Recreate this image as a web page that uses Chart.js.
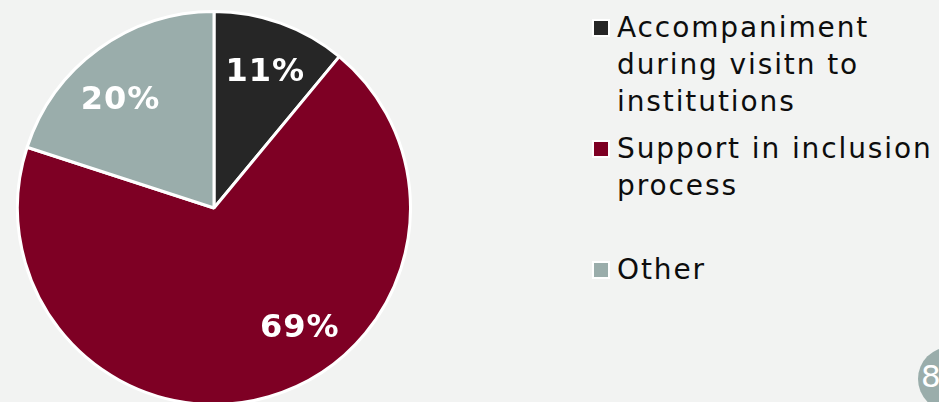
<!DOCTYPE html>
<html>
<head>
    <title>Pie chart</title>
    <script src="https://cdn.jsdelivr.net/npm/chart.js"></script>
    <style>
        html, body { margin: 0; padding: 0; width: 939px; height: 402px; overflow: hidden; background: #f2f3f2; }
        #chart-container { position: absolute; left: 16px; top: 10px; width: 396px; height: 396px; }
        #legend { position: absolute; left: 592px; top: 9px; font-family: "DejaVu Sans", Verdana, sans-serif; font-size: 28px; color: #0d0d0d; letter-spacing: 1.9px; }
        .item { position: relative; padding-left: 25px; line-height: 37px; margin-bottom: 10px; white-space: nowrap; }
        .box { position: absolute; left: 0px; top: 10px; width: 14px; height: 14px; border: 2px solid #fff; }
        #page { position: absolute; left: 918px; top: 347px; width: 64px; height: 64px; border-radius: 50%; background: #9aadab; color: #fff; font-family: "DejaVu Sans", sans-serif; font-size: 31px; line-height: 58px; text-indent: 3px; }
    </style>
</head>
<body>
    <div id="chart-container">
        <canvas id="pie-chart"></canvas>
    </div>
    <div id="legend"></div>
    <div id="page">8</div>

    <script>
        // categories (legend lines), values in percent, slice colours
        var categorias = [
            ['Accompaniment', 'during visitn to', 'institutions'],
            ['Support in inclusion', 'process', ''],
            ['Other']
        ];
        var valores = [11, 69, 20];
        var colores = ['#262626', '#7e0024', '#9aadab'];

        // desplazamiento de las etiquetas (grados) para imitar el original
        var giroEtiqueta = [0, -19, -5];

        var etiquetas = {
            id: 'etiquetas',
            afterDatasetsDraw: function(chart) {
                var c = chart.ctx;
                var meta = chart.getDatasetMeta(0);
                c.save();
                c.fillStyle = '#fff';
                c.font = 'bold 32px "DejaVu Sans", sans-serif';
                c.letterSpacing = '1px';
                c.textAlign = 'center';
                c.textBaseline = 'middle';
                meta.data.forEach(function(arc, i) {
                    var p = arc.getProps(['x', 'y', 'startAngle', 'endAngle', 'outerRadius']);
                    var ang = (p.startAngle + p.endAngle) / 2 + giroEtiqueta[i] * Math.PI / 180;
                    var r = p.outerRadius * 0.74;
                    c.fillText(valores[i] + '%', p.x + Math.cos(ang) * r + 2, p.y + Math.sin(ang) * r + 2);
                });
                c.restore();
            }
        };

        var ctx = document.getElementById('pie-chart').getContext('2d');
        var chart = new Chart(ctx, {
            type: 'pie',
            data: {
                labels: categorias,
                datasets: [{
                    data: valores,
                    backgroundColor: colores,
                    borderColor: '#ffffff',
                    borderWidth: 3
                }]
            },
            options: {
                responsive: true,
                maintainAspectRatio: false,
                animation: false,
                layout: { padding: 0 },
                plugins: {
                    legend: { display: false },
                    tooltip: { enabled: false }
                }
            },
            plugins: [etiquetas]
        });

        // leyenda en HTML
        var legend = document.getElementById('legend');
        categorias.forEach(function(lineas, i) {
            var item = document.createElement('div');
            item.className = 'item';
            var box = document.createElement('span');
            box.className = 'box';
            box.style.background = colores[i];
            item.appendChild(box);
            lineas.forEach(function(t) {
                var l = document.createElement('div');
                l.textContent = t || '\u00a0';
                item.appendChild(l);
            });
            legend.appendChild(item);
        });
    </script>
</body>
</html>
